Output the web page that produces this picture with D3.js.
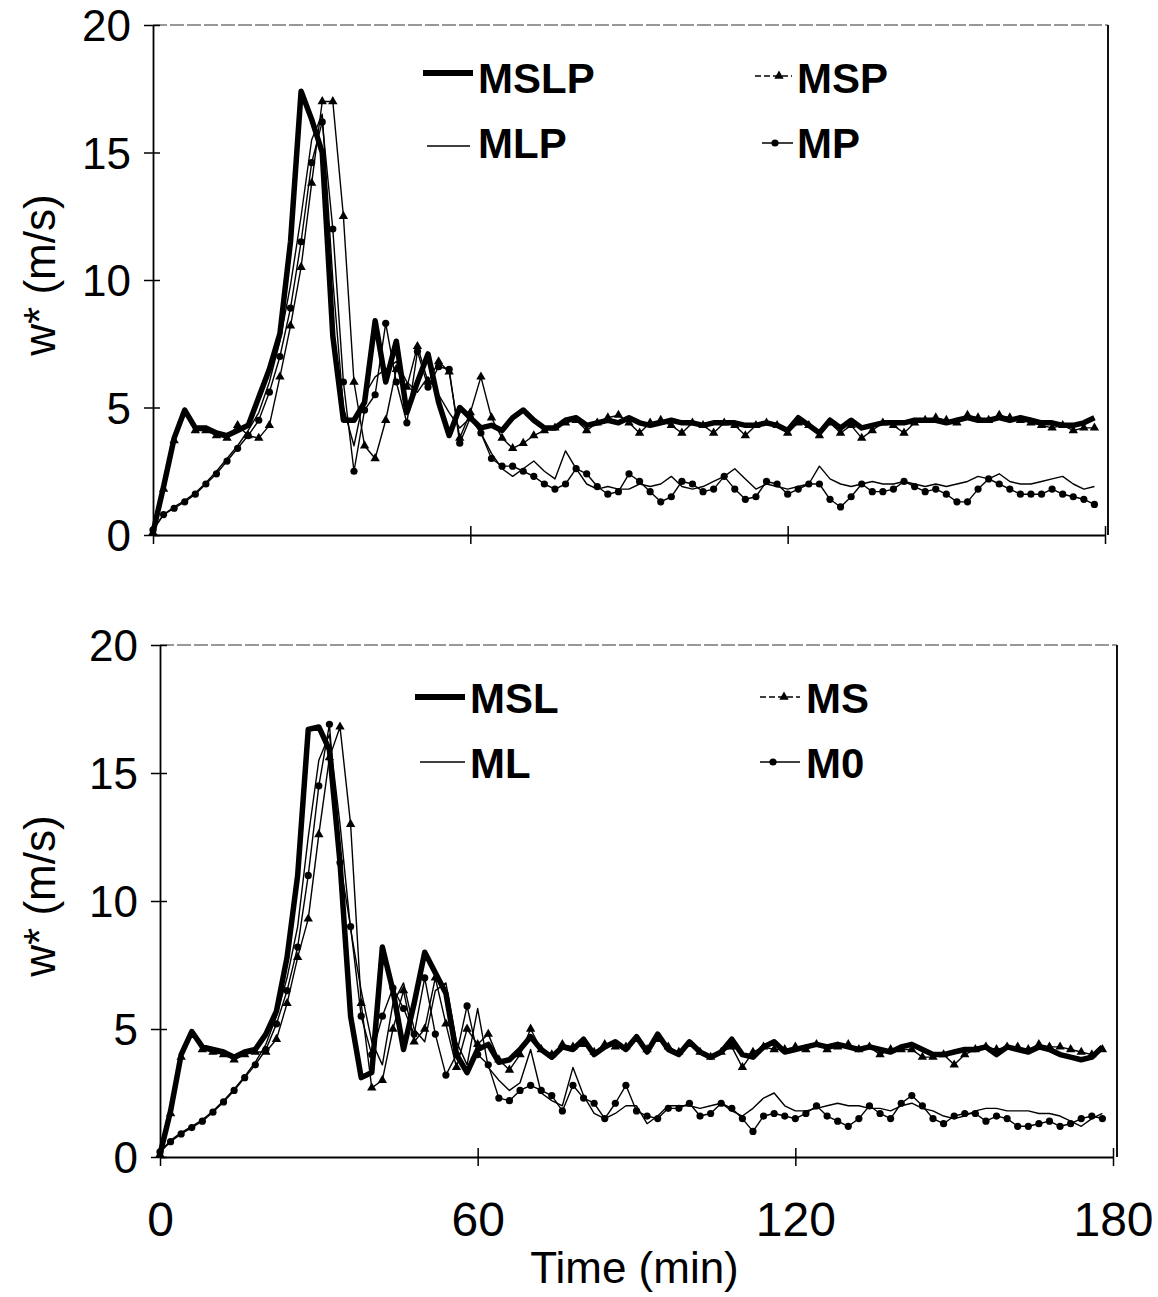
<!DOCTYPE html>
<html>
<head>
<meta charset="utf-8">
<script src="https://cdn.jsdelivr.net/npm/d3@7"></script>
<style>
  body { margin: 0; background: #fff; }
  text { font-family: "Liberation Sans", Arial, sans-serif; fill: #000; }
</style>
</head>
<body>
<div id="chart"></div>
<script>
// sample times (min)
const times = [
  0, 2, 4, 6, 8, 10, 12, 14, 16, 18,
  20, 22, 24, 26, 28, 30, 32, 34, 36, 38,
  40, 42, 44, 46, 48, 50, 52, 54, 56, 58,
  60, 62, 64, 66, 68, 70, 72, 74, 76, 78,
  80, 82, 84, 86, 88, 90, 92, 94, 96, 98,
  100, 102, 104, 106, 108, 110, 112, 114, 116, 118,
  120, 122, 124, 126, 128, 130, 132, 134, 136, 138,
  140, 142, 144, 146, 148, 150, 152, 154, 156, 158,
  160, 162, 164, 166, 168, 170, 172, 174, 176, 178
]

// top panel, w* (m/s)
const mslp = [
  0.1, 1.9, 3.8, 4.9, 4.2, 4.2, 4.0, 3.9, 4.1, 4.3,
  5.4, 6.5, 7.9, 11.5, 17.4, 16.3, 15.0, 7.8, 4.5, 4.5,
  5.2, 8.4, 6.0, 7.6, 4.8, 6.0, 7.1, 5.2, 3.9, 5.0,
  4.6, 4.2, 4.3, 4.1, 4.6, 4.9, 4.5, 4.2, 4.2, 4.5,
  4.6, 4.3, 4.4, 4.5, 4.4, 4.6, 4.4, 4.3, 4.4, 4.5,
  4.4, 4.4, 4.3, 4.4, 4.4, 4.4, 4.3, 4.3, 4.4, 4.3,
  4.1, 4.6, 4.3, 4.0, 4.5, 4.2, 4.5, 4.2, 4.3, 4.4,
  4.4, 4.4, 4.5, 4.5, 4.5, 4.4, 4.5, 4.6, 4.5, 4.5,
  4.6, 4.5, 4.6, 4.5, 4.4, 4.4, 4.3, 4.3, 4.4, 4.6
]
const msp = [
  0.1, 1.8, 3.7, 4.8, 4.1, 4.1, 3.9, 3.8, 4.3, 3.9,
  3.8, 4.3, 6.2, 8.2, 10.5, 13.8, 17.0, 17.0, 12.5, 6.0,
  3.5, 3.0, 4.5, 6.5, 5.8, 7.4, 6.0, 6.8, 6.4, 3.8,
  4.8, 6.2, 4.6, 3.8, 3.4, 3.6, 3.9, 4.1, 4.2, 4.4,
  4.5, 4.1, 4.4, 4.6, 4.7, 4.4, 4.0, 4.4, 4.5, 4.3,
  4.0, 4.4, 4.3, 4.0, 4.4, 4.3, 3.9, 4.3, 4.4, 4.3,
  4.0, 4.4, 4.3, 3.9, 4.4, 4.0, 4.3, 3.8, 4.1, 4.4,
  4.3, 4.0, 4.4, 4.5, 4.6, 4.5, 4.4, 4.7, 4.6, 4.5,
  4.7, 4.6, 4.5, 4.4, 4.3, 4.2, 4.3, 4.1, 4.2, 4.2
]
const mlp = [
  0.2, 0.8, 1.1, 1.35, 1.65, 2.05, 2.5, 3.0, 3.5, 4.1,
  4.8, 6.0, 7.6, 9.8, 12.5, 15.5, 16.5, 10.0, 5.0, 3.5,
  5.5, 6.2, 6.5, 6.8, 6.0, 5.6, 6.2, 5.5, 4.8, 4.2,
  4.6, 4.0, 3.2, 2.6, 2.3, 2.6, 2.9, 2.5, 2.2, 3.3,
  2.6, 2.0, 1.8, 1.9, 1.8, 1.8, 2.0, 1.9, 2.0, 2.3,
  1.9, 1.8, 1.9, 2.1, 2.3, 2.6, 2.2, 1.8, 2.0, 1.9,
  1.8, 1.9, 2.0, 2.7, 2.2, 2.0, 1.9, 2.0, 2.1, 2.0,
  2.0, 2.1, 2.0, 1.9, 2.0, 1.9, 2.0, 2.1, 2.3, 2.2,
  2.4, 2.1, 2.0, 2.0, 2.1, 2.2, 2.3, 2.0, 1.8, 1.9
]
const mp = [
  0.2, 0.8, 1.05, 1.3, 1.6, 2.0, 2.4, 2.9, 3.4, 3.9,
  4.5, 5.6, 7.0, 8.9, 11.5, 14.6, 16.2, 12.0, 6.0, 2.5,
  4.9, 5.5, 8.3, 6.0, 4.4, 7.2, 5.8, 6.6, 6.5, 3.6,
  4.6, 4.0, 3.0, 2.7, 2.7, 2.5, 2.3, 2.0, 1.8, 2.0,
  2.6, 2.4, 1.9, 1.6, 1.7, 2.4, 2.1, 1.7, 1.3, 1.5,
  2.1, 2.0, 1.7, 1.8, 2.3, 1.8, 1.4, 1.5, 2.1, 2.0,
  1.6, 1.8, 2.0, 2.0, 1.4, 1.1, 1.5, 2.0, 1.7, 1.7,
  1.8, 2.1, 1.9, 1.7, 1.8, 1.6, 1.3, 1.3, 1.8, 2.2,
  2.0, 1.8, 1.6, 1.6, 1.6, 1.8, 1.6, 1.5, 1.4, 1.2
]

// bottom panel, w* (m/s)
const msl = [
  0.1, 1.8, 4.0, 4.9, 4.3, 4.2, 4.1, 3.9, 4.1, 4.2,
  4.8, 5.7, 7.8, 11.0, 16.7, 16.8, 15.9, 11.5, 5.5, 3.1,
  3.3, 8.2, 6.5, 4.2, 6.0, 8.0, 7.2, 6.4, 4.0, 3.3,
  4.2, 4.4, 3.7, 3.8, 4.2, 4.7, 4.2, 3.9, 4.3, 4.2,
  4.6, 4.0, 4.3, 4.5, 4.2, 4.7, 4.1, 4.8, 4.2, 4.0,
  4.5, 4.1, 3.9, 4.1, 4.6, 4.0, 3.9, 4.3, 4.5, 4.1,
  4.2, 4.3, 4.4, 4.3, 4.4, 4.3, 4.2, 4.3, 4.2, 4.1,
  4.3, 4.4, 4.2, 4.0, 4.0, 4.1, 4.2, 4.2, 4.3, 4.0,
  4.3, 4.2, 4.1, 4.3, 4.2, 4.0, 3.9, 3.8, 3.9, 4.3
]
const ms = [
  0.1, 1.7, 3.9, 4.8, 4.2, 4.1, 4.0, 3.8, 4.0, 4.1,
  4.1, 4.6, 6.0, 7.8, 9.3, 12.6, 15.6, 16.8, 13.0, 6.0,
  2.7, 3.0, 5.0, 6.5, 4.5, 5.0, 7.0, 5.2, 3.5, 5.0,
  4.4, 4.8, 3.8, 3.4, 4.0, 5.0, 4.2, 4.0, 4.4, 4.3,
  4.4, 4.1, 4.4, 4.3, 4.3, 4.6, 4.2, 4.6, 4.3, 4.1,
  4.4, 4.1, 3.9, 4.1, 4.3, 3.5, 4.1, 4.3, 4.2, 4.2,
  4.3, 4.2, 4.4, 4.2, 4.3, 4.4, 4.2, 4.3, 4.0, 4.2,
  4.2, 4.2, 3.9, 3.9, 4.0, 3.6, 4.0, 4.2, 4.3, 4.2,
  4.3, 4.3, 4.2, 4.4, 4.3, 4.3, 4.2, 4.1, 4.0, 4.2
]
const ml = [
  0.2, 0.65, 0.95, 1.2, 1.45, 1.8, 2.2, 2.65, 3.15, 3.7,
  4.4, 5.5, 7.0, 9.0, 12.5, 15.5, 16.5, 13.0, 8.9, 6.5,
  4.5, 3.6, 6.0, 6.8, 5.0, 4.5, 6.5, 6.8, 4.5, 3.6,
  5.8, 3.5, 3.0, 2.6, 2.9, 4.2, 2.5, 2.2, 2.0, 3.5,
  2.4, 1.7, 1.5, 1.7, 2.0, 2.0, 1.3, 1.6, 2.0, 2.0,
  2.0, 1.9, 2.0, 2.1, 1.8, 1.6, 1.9, 2.3, 2.5, 2.0,
  1.8, 1.8, 1.9, 2.0, 2.1, 2.0, 2.0, 1.9, 1.9, 1.8,
  2.0, 2.1, 1.9, 1.8, 1.6, 1.5, 1.6, 1.8, 1.9, 1.9,
  1.8, 1.8, 1.8, 1.7, 1.7, 1.6, 1.4, 1.2, 1.5, 1.7
]
const m0 = [
  0.2, 0.6, 0.9, 1.15, 1.4, 1.75, 2.15, 2.6, 3.1, 3.6,
  4.2, 5.2, 6.5, 8.2, 11.0, 14.5, 16.9, 11.5, 9.0, 5.5,
  4.0, 5.5, 6.6, 5.8, 4.8, 7.0, 4.8, 3.2, 4.0, 5.9,
  4.0, 3.6, 2.3, 2.2, 2.6, 2.8, 2.6, 2.4, 1.8, 2.8,
  2.3, 2.1, 1.5, 2.1, 2.8, 1.8, 1.6, 1.5, 1.9, 1.9,
  2.1, 1.6, 1.7, 2.1, 1.9, 1.5, 1.0, 1.6, 1.7, 1.6,
  1.5, 1.7, 2.0, 1.6, 1.4, 1.2, 1.5, 2.0, 1.7, 1.5,
  2.1, 2.4, 2.0, 1.5, 1.3, 1.6, 1.7, 1.7, 1.4, 1.6,
  1.5, 1.2, 1.2, 1.3, 1.4, 1.2, 1.3, 1.5, 1.6, 1.5
]

const xTicks = [0, 60, 120, 180]
const yTicks = [0, 5, 10, 15, 20]
const xTitle = "Time (min)"
const yTitle = "w* (m/s)"

const topSeries = [
  {name: "MP", values: mp, kind: "dot"},
  {name: "MLP", values: mlp, kind: "thin"},
  {name: "MSP", values: msp, kind: "tri"},
  {name: "MSLP", values: mslp, kind: "thick"}
]
const bottomSeries = [
  {name: "M0", values: m0, kind: "dot"},
  {name: "ML", values: ml, kind: "thin"},
  {name: "MS", values: ms, kind: "tri"},
  {name: "MSL", values: msl, kind: "thick"}
]

const width = 1158, height = 1297

const panels = [
  {top: 25, bottom: 535, left: 153, right: 1105, frameRight: 1108, labels: false, series: topSeries,
   legend: [
     {name: "MSLP", kind: "thick", lx: [423, 473], ly: 73, tx: 478, ty: 93},
     {name: "MLP", kind: "thin", lx: [427, 470], ly: 146, tx: 478, ty: 158},
     {name: "MSP", kind: "tri", lx: [755, 792], ly: 76, tx: 797, ty: 93},
     {name: "MP", kind: "dot", lx: [762, 793], ly: 143, tx: 797, ty: 158}
   ]},
  {top: 645, bottom: 1157, left: 160, right: 1113, frameRight: 1117, labels: true, series: bottomSeries,
   legend: [
     {name: "MSL", kind: "thick", lx: [415, 465], ly: 697, tx: 470, ty: 713},
     {name: "ML", kind: "thin", lx: [420, 465], ly: 762, tx: 470, ty: 778},
     {name: "MS", kind: "tri", lx: [760, 800], ly: 697, tx: 806, ty: 713},
     {name: "M0", kind: "dot", lx: [760, 800], ly: 762, tx: 806, ty: 778}
   ]}
]

const svg = d3.select("#chart")
  .append("svg")
  .attr("width", width)
  .attr("height", height)
  .attr("viewBox", `0 0 ${width} ${height}`)

const triangle = d3.symbol().type(d3.symbolTriangle).size(38)

const drawMarker = (g, kind, cx, cy) => {
  if (kind === "dot") {
    g.append("circle").attr("cx", cx).attr("cy", cy).attr("r", 3.6).attr("fill", "#000")
  } else if (kind === "tri") {
    g.append("path").attr("d", triangle()).attr("transform", `translate(${cx},${cy})`).attr("fill", "#000")
  }
}

panels.forEach(p => {
  const x = d3.scaleLinear().domain([0, 180]).range([p.left, p.right])
  const y = d3.scaleLinear().domain([0, 20]).range([p.bottom, p.top])
  const g = svg.append("g")

  // frame: top and right
  g.append("line")
    .attr("x1", p.left).attr("x2", p.frameRight)
    .attr("y1", p.top).attr("y2", p.top)
    .attr("stroke", "#333").attr("stroke-width", 1.2).attr("stroke-dasharray", "14,3")
  g.append("line")
    .attr("x1", p.frameRight).attr("x2", p.frameRight)
    .attr("y1", p.top).attr("y2", p.bottom)
    .attr("stroke", "#111").attr("stroke-width", 2)

  // y axis
  const yAxis = g.append("g")
    .attr("transform", `translate(${p.left},0)`)
    .call(d3.axisLeft(y).tickValues(yTicks).tickSize(9).tickSizeOuter(0).tickPadding(13))
  yAxis.select(".domain").attr("stroke", "#000").attr("stroke-width", 1.8)
  yAxis.selectAll(".tick line").attr("x1", 7).attr("stroke-width", 1.5)
  yAxis.selectAll(".tick text").style("font-size", "44px").attr("dy", "0.36em")

  // x axis
  const xAxis = g.append("g")
    .attr("transform", `translate(0,${p.bottom})`)
    .call(d3.axisBottom(x).tickValues(xTicks).tickSize(9).tickSizeOuter(0).tickPadding(36)
      .tickFormat(p.labels ? d3.format("d") : () => ""))
  xAxis.select(".domain").attr("stroke", "#000").attr("stroke-width", 2)
  xAxis.selectAll(".tick line").attr("y1", -9).attr("stroke-width", 1.5)
  xAxis.selectAll(".tick text").style("font-size", "48px")

  // y title
  g.append("text")
    .attr("transform", `translate(55,${(p.top + p.bottom) / 2 - 5}) rotate(-90)`)
    .attr("text-anchor", "middle")
    .style("font-size", "44px")
    .text(yTitle)

  // series lines
  const line = d3.line()
    .x((d, i) => x(times[i]))
    .y(d => y(d))

  p.series.forEach(s => {
    g.append("path")
      .datum(s.values)
      .attr("fill", "none")
      .attr("stroke", "#000")
      .attr("stroke-linejoin", "round")
      .attr("stroke-width", s.kind === "thick" ? 5.5 : 1.4)
      .attr("d", line)
  })

  // markers on top
  p.series.filter(s => s.kind === "dot" || s.kind === "tri").forEach(s => {
    const mg = g.append("g")
    s.values.forEach((v, i) => drawMarker(mg, s.kind, x(times[i]), y(v)))
  })

  // legend
  p.legend.forEach(l => {
    g.append("line")
      .attr("x1", l.lx[0]).attr("x2", l.lx[1])
      .attr("y1", l.ly).attr("y2", l.ly)
      .attr("stroke", "#000")
      .attr("stroke-width", l.kind === "thick" ? 6 : 1.5)
      .attr("stroke-dasharray", l.kind === "tri" ? "6,3" : null)
    drawMarker(g, l.kind, l.kind === "tri" ? l.lx[0] + 24 : l.lx[0] + 13, l.ly)
    g.append("text")
      .attr("x", l.tx).attr("y", l.ty)
      .style("font-size", "42px")
      .style("font-weight", "bold")
      .text(l.name)
  })

  if (p.labels) {
    g.append("text")
      .attr("x", (p.left + p.right) / 2 - 2)
      .attr("y", 1283)
      .attr("text-anchor", "middle")
      .style("font-size", "44px")
      .text(xTitle)
  }
})
</script>
</body>
</html>
